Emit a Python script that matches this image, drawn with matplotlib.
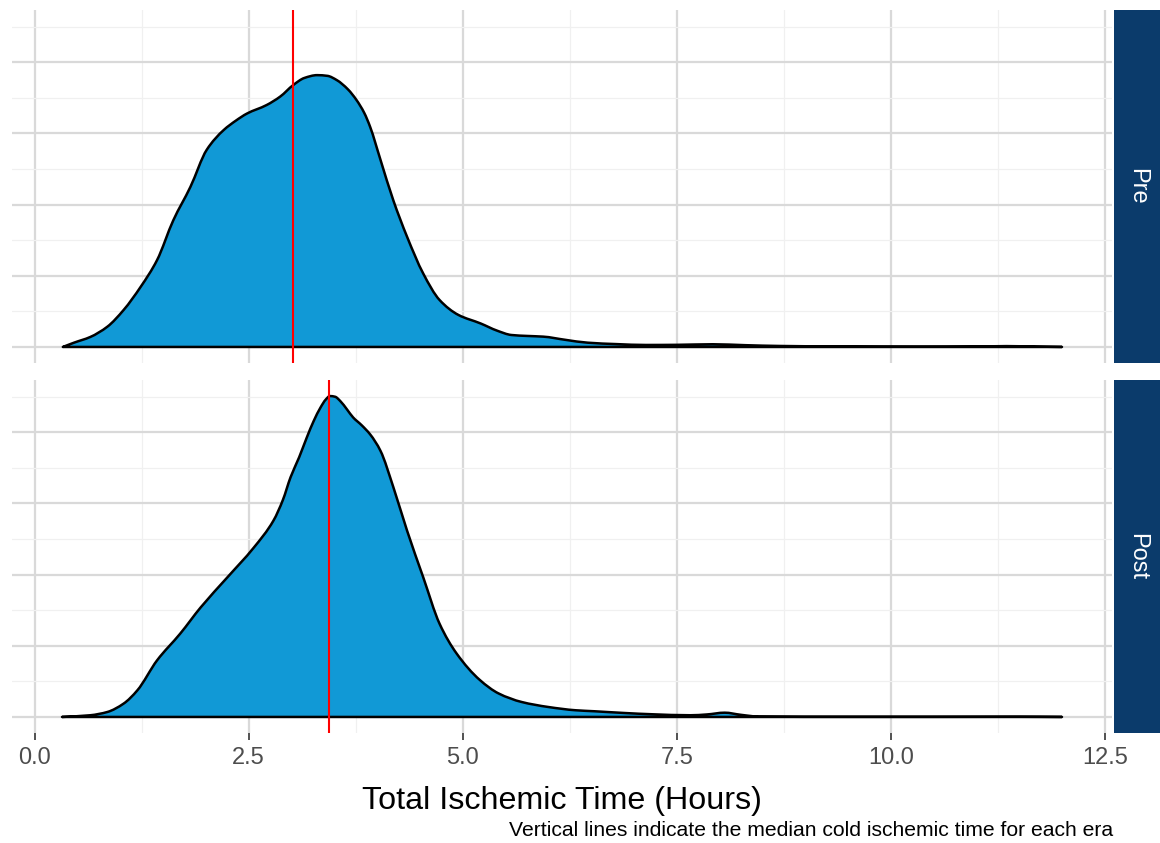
import matplotlib
matplotlib.use("Agg")
import matplotlib.pyplot as plt
import numpy as np
from matplotlib.path import Path
from matplotlib.patches import PathPatch
from matplotlib.ticker import MultipleLocator

plt.rcParams["font.family"] = ["Liberation Sans", "DejaVu Sans"]

# density curves (hours, density)
pre_x = [0.33, 0.46, 0.65, 0.85, 1.04, 1.24, 1.43, 1.62, 1.82, 2.01, 2.21, 2.35,
         2.48, 2.71, 2.87, 3.02, 3.15, 3.30, 3.42, 3.53, 3.66, 3.76, 3.85, 3.92,
         4.04, 4.19, 4.35, 4.54, 4.73, 4.95, 5.21, 5.40, 5.57, 5.75, 5.94, 6.20,
         6.46, 6.80, 7.14, 7.50, 7.92, 8.30, 8.70, 9.50, 10.3, 11.0, 11.35, 11.7, 12.0]
pre_y = [0.0, 0.0060, 0.014, 0.0285, 0.052, 0.0847, 0.122, 0.178, 0.225, 0.277, 0.305, 0.318,
         0.328, 0.340, 0.352, 0.368, 0.378, 0.382, 0.381, 0.375, 0.362, 0.347, 0.329, 0.309,
         0.263, 0.206, 0.155, 0.103, 0.066, 0.045, 0.033, 0.023, 0.0168, 0.0155, 0.0145, 0.010,
         0.006, 0.004, 0.0028, 0.003, 0.0038, 0.0025, 0.0014, 0.0006, 0.0004, 0.0006, 0.0012, 0.0005, 0.0]

post_x = [0.32, 0.65, 0.85, 1.04, 1.20, 1.43, 1.70, 1.94, 2.25, 2.56, 2.79, 2.90,
          2.99, 3.09, 3.18, 3.26, 3.34, 3.40, 3.45, 3.51, 3.57, 3.65, 3.72, 3.82,
          3.92, 4.04, 4.19, 4.35, 4.54, 4.73, 4.93, 5.20, 5.42, 5.69, 6.00, 6.32,
          6.54, 6.90, 7.21, 7.66, 7.85, 8.06, 8.25, 8.46, 9.5, 10.5, 11.5, 12.0]
post_y = [0.0, 0.0024, 0.007, 0.0188, 0.0374, 0.0795, 0.117, 0.154, 0.196, 0.238, 0.276, 0.305,
          0.337, 0.365, 0.393, 0.416, 0.435, 0.446, 0.451, 0.450, 0.444, 0.432, 0.421, 0.410,
          0.397, 0.374, 0.323, 0.262, 0.196, 0.131, 0.089, 0.052, 0.033, 0.021, 0.014, 0.0094,
          0.008, 0.0055, 0.0038, 0.0024, 0.0035, 0.006, 0.003, 0.0005, 0.0002, 0.0002, 0.0003, 0.0]

pre_median = 3.02
post_median = 3.44

panels = [("Pre", pre_x, pre_y, pre_median), ("Post", post_x, post_y, post_median)]

fill_col = "#1199D6"
strip_col = "#0B3B6B"


def smooth_path(xs, ys):
    # cubic bezier through the read points, monotone (pchip-like) tangents
    x = np.asarray(xs, float)
    y = np.asarray(ys, float)
    h = np.diff(x)
    d = np.diff(y) / h
    m = np.zeros_like(y)
    for k in range(1, len(x) - 1):
        if d[k - 1] * d[k] > 0:
            w1 = 2 * h[k] + h[k - 1]
            w2 = h[k] + 2 * h[k - 1]
            m[k] = (w1 + w2) / (w1 / d[k - 1] + w2 / d[k])
    m[0], m[-1] = d[0], d[-1]
    verts = [(x[0], y[0])]
    codes = [Path.MOVETO]
    for k in range(len(x) - 1):
        verts += [(x[k] + h[k] / 3, y[k] + m[k] * h[k] / 3),
                  (x[k + 1] - h[k] / 3, y[k + 1] - m[k + 1] * h[k] / 3),
                  (x[k + 1], y[k + 1])]
        codes += [Path.CURVE4] * 3
    verts.append((x[0], y[0]))
    codes.append(Path.LINETO)
    verts.append((x[0], y[0]))
    codes.append(Path.CLOSEPOLY)
    return Path(verts, codes)


fig = plt.figure(figsize=(11.6, 8.43), dpi=100)

W, H = 1160, 843
left, right = 12, 1112
tops = [10, 380]
panel_h = 353

all_x = pre_x + post_x
x_lo, x_hi = min(all_x), max(all_x)
x_pad = 0.05 * (x_hi - x_lo)
y_top = max(max(pre_y), max(post_y))
y_pad = 0.05 * y_top

for i, (name, xs, ys, med) in enumerate(panels):
    top = tops[i]
    ax = fig.add_axes([left / W, 1 - (top + panel_h) / H, (right - left) / W, panel_h / H])
    ax.set_xlim(x_lo - x_pad, x_hi + x_pad)
    ax.set_ylim(-y_pad, y_top + y_pad)

    ax.xaxis.set_major_locator(MultipleLocator(2.5))
    ax.xaxis.set_minor_locator(MultipleLocator(1.25))
    ax.yaxis.set_major_locator(MultipleLocator(0.1))
    ax.yaxis.set_minor_locator(MultipleLocator(0.05))
    ax.grid(which="major", color="#D9D9D9", linewidth=1.6)
    ax.grid(which="minor", color="#F0F0F0", linewidth=0.9)
    ax.set_axisbelow(True)
    for s in ax.spines.values():
        s.set_visible(False)

    ax.add_patch(PathPatch(smooth_path(xs, ys), facecolor=fill_col, edgecolor="black",
                           linewidth=1.8, joinstyle="round", zorder=2))
    ax.axvline(med, color="#FF0000", linewidth=1.5, zorder=3)

    ax.tick_params(axis="y", which="both", left=False, labelleft=False)
    ax.tick_params(axis="x", which="minor", bottom=False)
    if i == 1:
        ax.tick_params(axis="x", which="major", length=5, width=1.2, color="#333333",
                       labelsize=17, labelcolor="#4D4D4D", pad=5)
        ax.set_xticklabels([f"{t:.1f}" for t in ax.get_xticks()])
    else:
        ax.tick_params(axis="x", which="major", bottom=False, labelbottom=False)

    # facet strip
    sax = fig.add_axes([1114 / W, 1 - (top + panel_h) / H, 46 / W, panel_h / H])
    sax.set_facecolor(strip_col)
    sax.set_xticks([])
    sax.set_yticks([])
    for s in sax.spines.values():
        s.set_visible(False)
    sax.text(0.5, 0.5, name, rotation=-90, color="white", fontsize=17,
             ha="center", va="center", transform=sax.transAxes)

fig.text(562 / W, 1 - 801 / H, "Total Ischemic Time (Hours)", fontsize=23.2,
         ha="center", va="center", color="black")
fig.text(1113 / W, 1 - 831 / H,
         "Vertical lines indicate the median cold ischemic time for each era",
         fontsize=15.2, ha="right", va="center", color="black")

fig.savefig("out.png", dpi=100, facecolor="white")
